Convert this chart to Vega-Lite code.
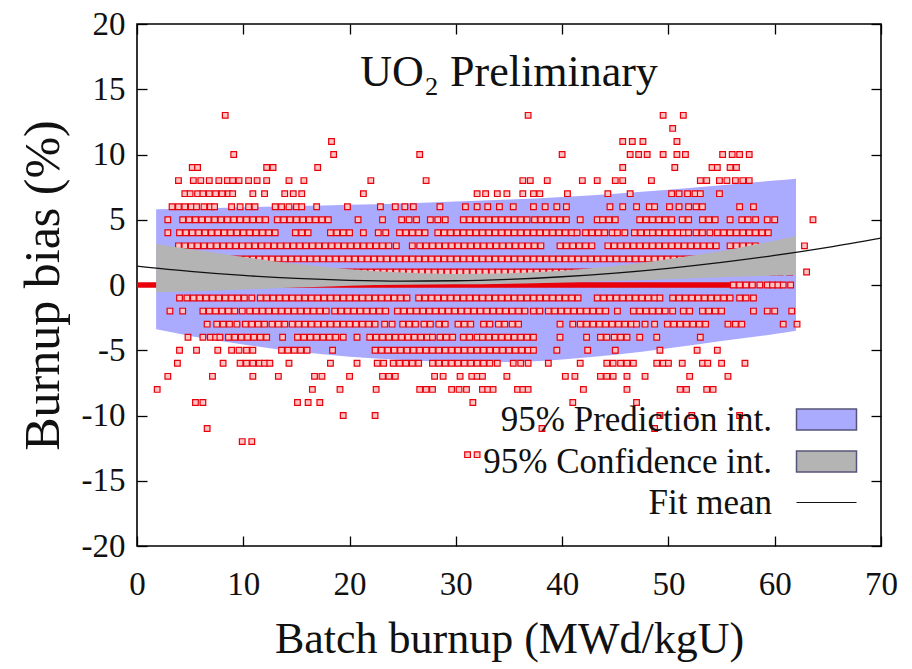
{
"$schema":"https://vega.github.io/schema/vega-lite/v6.json",
"width":744,"height":522,
"autosize":{"type":"none"},
"padding":{"left":137,"top":24,"right":31,"bottom":123},
"background":"white",
"config":{"view":{"stroke":"#000","strokeWidth":1.6},"font":"Liberation Serif"},
"title":{"text":"UO₂ Preliminary","font":"Liberation Serif","fontSize":44,"fontWeight":"normal","color":"#111","anchor":"middle","frame":"group","offset":-64,"dy":58,"baseline":"alphabetic"},
"datasets":{
"pred":[{"x":1.8,"lo":-3.4,"hi":5.8},{"x":5,"lo":-3.9,"hi":5.85},{"x":10,"lo":-4.55,"hi":5.95},{"x":15,"lo":-5.1,"hi":6.05},{"x":20,"lo":-5.5,"hi":6.15},{"x":25,"lo":-5.75,"hi":6.25},{"x":30,"lo":-5.9,"hi":6.4},{"x":35,"lo":-5.9,"hi":6.55},{"x":40,"lo":-5.7,"hi":6.75},{"x":45,"lo":-5.35,"hi":7.0},{"x":50,"lo":-4.85,"hi":7.3},{"x":55,"lo":-4.3,"hi":7.65},{"x":60,"lo":-3.75,"hi":8.0},{"x":62,"lo":-3.5,"hi":8.15}],
"conf":[{"x":1.8,"lo":-0.55,"hi":3.15},{"x":5,"lo":-0.5,"hi":2.75},{"x":10,"lo":-0.35,"hi":2.15},{"x":15,"lo":-0.2,"hi":1.6},{"x":20,"lo":-0.05,"hi":1.2},{"x":25,"lo":0.02,"hi":0.95},{"x":30,"lo":0.05,"hi":0.85},{"x":35,"lo":0.1,"hi":0.9},{"x":40,"lo":0.2,"hi":1.1},{"x":45,"lo":0.3,"hi":1.45},{"x":50,"lo":0.45,"hi":2.0},{"x":55,"lo":0.6,"hi":2.6},{"x":60,"lo":0.72,"hi":3.4},{"x":62,"lo":0.78,"hi":3.75}],
"mean":[{"x":0,"y":1.45},{"x":5,"y":1.05},{"x":10,"y":0.735},{"x":15,"y":0.506},{"x":20,"y":0.361},{"x":25,"y":0.302},{"x":30,"y":0.327},{"x":35,"y":0.438},{"x":40,"y":0.633},{"x":45,"y":0.914},{"x":50,"y":1.279},{"x":55,"y":1.73},{"x":60,"y":2.265},{"x":65,"y":2.886},{"x":70,"y":3.591}],
"zero":[{"x":0,"x2":56,"y":0}],
"pts":[
{"x":8.3,"y":13},{"x":36.8,"y":13},{"x":49.5,"y":13},{"x":51.4,"y":13},
{"x":50.4,"y":12},
{"x":18.3,"y":11},{"x":45.7,"y":11},{"x":46.6,"y":11},{"x":47.6,"y":11},{"x":50.8,"y":11},
{"x":9.1,"y":10},{"x":18.5,"y":10},{"x":26.6,"y":10},{"x":40.0,"y":10},{"x":46.4,"y":10},{"x":47.2,"y":10},{"x":48.0,"y":10},{"x":49.5,"y":10},{"x":50.8,"y":10},{"x":51.6,"y":10},{"x":55.1,"y":10},{"x":56.0,"y":10},{"x":56.7,"y":10},{"x":57.6,"y":10},
{"x":5.2,"y":9},{"x":5.7,"y":9},{"x":12.2,"y":9},{"x":12.8,"y":9},{"x":17.0,"y":9},{"x":45.7,"y":9},{"x":50.6,"y":9},{"x":54.1,"y":9},{"x":54.6,"y":9},{"x":55.8,"y":9},{"x":56.4,"y":9},
{"x":3.9,"y":8},{"x":5.3,"y":8},{"x":6.0,"y":8},{"x":6.8,"y":8},{"x":7.7,"y":8},{"x":8.5,"y":8},{"x":9.0,"y":8},{"x":9.6,"y":8},{"x":10.5,"y":8},{"x":11.3,"y":8},{"x":12.2,"y":8},{"x":14.3,"y":8},{"x":15.7,"y":8},{"x":22.0,"y":8},{"x":27.2,"y":8},{"x":36.3,"y":8},{"x":37.0,"y":8},{"x":38.6,"y":8},{"x":41.9,"y":8},{"x":43.3,"y":8},{"x":45.0,"y":8},{"x":45.7,"y":8},{"x":48.4,"y":8},{"x":53.0,"y":8},{"x":53.6,"y":8},{"x":54.8,"y":8},{"x":55.5,"y":8},{"x":56.3,"y":8},{"x":57.0,"y":8},{"x":57.6,"y":8},
{"x":4.5,"y":7},{"x":5.0,"y":7},{"x":5.7,"y":7},{"x":6.2,"y":7},{"x":6.8,"y":7},{"x":7.4,"y":7},{"x":8.0,"y":7},{"x":8.6,"y":7},{"x":9.0,"y":7},{"x":10.9,"y":7},{"x":12.0,"y":7},{"x":13.9,"y":7},{"x":14.7,"y":7},{"x":15.5,"y":7},{"x":21.3,"y":7},{"x":32.0,"y":7},{"x":32.8,"y":7},{"x":33.9,"y":7},{"x":34.8,"y":7},{"x":36.3,"y":7},{"x":37.3,"y":7},{"x":37.9,"y":7},{"x":40.5,"y":7},{"x":44.3,"y":7},{"x":46.4,"y":7},{"x":50.3,"y":7},{"x":51.0,"y":7},{"x":51.8,"y":7},{"x":52.5,"y":7},{"x":53.0,"y":7},{"x":54.8,"y":7},
{"x":3.3,"y":6},{"x":3.9,"y":6},{"x":4.5,"y":6},{"x":5.1,"y":6},{"x":5.6,"y":6},{"x":6.3,"y":6},{"x":6.9,"y":6},{"x":7.3,"y":6},{"x":8.9,"y":6},{"x":9.7,"y":6},{"x":10.5,"y":6},{"x":11.1,"y":6},{"x":13.0,"y":6},{"x":13.6,"y":6},{"x":14.3,"y":6},{"x":15.0,"y":6},{"x":15.5,"y":6},{"x":16.9,"y":6},{"x":19.8,"y":6},{"x":22.9,"y":6},{"x":24.3,"y":6},{"x":25.2,"y":6},{"x":26.0,"y":6},{"x":28.5,"y":6},{"x":30.9,"y":6},{"x":32.0,"y":6},{"x":33.0,"y":6},{"x":34.1,"y":6},{"x":35.4,"y":6},{"x":37.3,"y":6},{"x":38.4,"y":6},{"x":39.5,"y":6},{"x":40.4,"y":6},{"x":44.5,"y":6},{"x":45.7,"y":6},{"x":47.0,"y":6},{"x":48.2,"y":6},{"x":48.7,"y":6},{"x":50.1,"y":6},{"x":51.0,"y":6},{"x":51.9,"y":6},{"x":52.6,"y":6},{"x":53.2,"y":6},{"x":56.7,"y":6},{"x":58.0,"y":6},
{"x":2.9,"y":5},{"x":4.3,"y":5},{"x":4.9,"y":5},{"x":5.5,"y":5},{"x":6.1,"y":5},{"x":6.7,"y":5},{"x":7.3,"y":5},{"x":7.9,"y":5},{"x":8.5,"y":5},{"x":9.1,"y":5},{"x":9.7,"y":5},{"x":10.3,"y":5},{"x":10.9,"y":5},{"x":11.5,"y":5},{"x":12.1,"y":5},{"x":13.2,"y":5},{"x":13.8,"y":5},{"x":14.4,"y":5},{"x":15.0,"y":5},{"x":15.6,"y":5},{"x":16.2,"y":5},{"x":16.8,"y":5},{"x":17.4,"y":5},{"x":18.0,"y":5},{"x":20.8,"y":5},{"x":23.1,"y":5},{"x":24.9,"y":5},{"x":25.6,"y":5},{"x":26.3,"y":5},{"x":27.6,"y":5},{"x":28.3,"y":5},{"x":29.0,"y":5},{"x":30.7,"y":5},{"x":31.3,"y":5},{"x":31.9,"y":5},{"x":32.5,"y":5},{"x":33.1,"y":5},{"x":33.7,"y":5},{"x":34.3,"y":5},{"x":34.9,"y":5},{"x":35.5,"y":5},{"x":36.1,"y":5},{"x":36.7,"y":5},{"x":37.4,"y":5},{"x":38.0,"y":5},{"x":38.6,"y":5},{"x":39.2,"y":5},{"x":39.8,"y":5},{"x":40.4,"y":5},{"x":41.7,"y":5},{"x":43.3,"y":5},{"x":43.8,"y":5},{"x":44.4,"y":5},{"x":45.0,"y":5},{"x":47.3,"y":5},{"x":47.9,"y":5},{"x":48.5,"y":5},{"x":49.1,"y":5},{"x":49.7,"y":5},{"x":50.3,"y":5},{"x":51.3,"y":5},{"x":51.9,"y":5},{"x":53.2,"y":5},{"x":53.8,"y":5},{"x":54.4,"y":5},{"x":55.8,"y":5},{"x":56.9,"y":5},{"x":57.5,"y":5},{"x":58.2,"y":5},{"x":59.3,"y":5},{"x":60.0,"y":5},{"x":63.6,"y":5},
{"x":2.9,"y":4},{"x":4.0,"y":4},{"x":4.6,"y":4},{"x":5.2,"y":4},{"x":5.8,"y":4},{"x":6.4,"y":4},{"x":7.0,"y":4},{"x":7.6,"y":4},{"x":8.2,"y":4},{"x":8.8,"y":4},{"x":9.4,"y":4},{"x":10.0,"y":4},{"x":10.6,"y":4},{"x":11.2,"y":4},{"x":11.8,"y":4},{"x":12.4,"y":4},{"x":13.0,"y":4},{"x":14.9,"y":4},{"x":15.5,"y":4},{"x":16.1,"y":4},{"x":18.2,"y":4},{"x":18.8,"y":4},{"x":19.4,"y":4},{"x":20.0,"y":4},{"x":21.3,"y":4},{"x":22.7,"y":4},{"x":23.4,"y":4},{"x":24.7,"y":4},{"x":25.3,"y":4},{"x":25.9,"y":4},{"x":26.5,"y":4},{"x":27.1,"y":4},{"x":28.3,"y":4},{"x":28.9,"y":4},{"x":29.5,"y":4},{"x":30.1,"y":4},{"x":30.7,"y":4},{"x":31.3,"y":4},{"x":31.9,"y":4},{"x":32.5,"y":4},{"x":33.1,"y":4},{"x":33.7,"y":4},{"x":34.3,"y":4},{"x":34.9,"y":4},{"x":35.5,"y":4},{"x":36.1,"y":4},{"x":36.7,"y":4},{"x":37.3,"y":4},{"x":37.9,"y":4},{"x":38.5,"y":4},{"x":39.1,"y":4},{"x":39.7,"y":4},{"x":40.3,"y":4},{"x":40.9,"y":4},{"x":41.4,"y":4},{"x":42.2,"y":4},{"x":42.8,"y":4},{"x":43.4,"y":4},{"x":44.0,"y":4},{"x":44.7,"y":4},{"x":45.2,"y":4},{"x":45.9,"y":4},{"x":46.8,"y":4},{"x":47.4,"y":4},{"x":48.0,"y":4},{"x":48.5,"y":4},{"x":49.1,"y":4},{"x":49.7,"y":4},{"x":50.3,"y":4},{"x":50.9,"y":4},{"x":51.4,"y":4},{"x":51.9,"y":4},{"x":52.6,"y":4},{"x":53.2,"y":4},{"x":53.9,"y":4},{"x":54.6,"y":4},{"x":55.2,"y":4},{"x":55.8,"y":4},{"x":56.4,"y":4},{"x":57.0,"y":4},{"x":57.6,"y":4},{"x":58.2,"y":4},{"x":58.8,"y":4},{"x":59.4,"y":4},
{"x":3.9,"y":3},{"x":4.5,"y":3},{"x":5.1,"y":3},{"x":5.7,"y":3},{"x":6.3,"y":3},{"x":6.9,"y":3},{"x":7.5,"y":3},{"x":8.1,"y":3},{"x":8.7,"y":3},{"x":9.3,"y":3},{"x":9.9,"y":3},{"x":10.5,"y":3},{"x":11.1,"y":3},{"x":11.7,"y":3},{"x":12.3,"y":3},{"x":12.9,"y":3},{"x":13.5,"y":3},{"x":14.1,"y":3},{"x":14.7,"y":3},{"x":15.3,"y":3},{"x":15.9,"y":3},{"x":16.5,"y":3},{"x":17.1,"y":3},{"x":17.7,"y":3},{"x":18.3,"y":3},{"x":18.9,"y":3},{"x":19.5,"y":3},{"x":20.1,"y":3},{"x":20.7,"y":3},{"x":21.3,"y":3},{"x":21.9,"y":3},{"x":22.5,"y":3},{"x":23.1,"y":3},{"x":23.7,"y":3},{"x":24.4,"y":3},{"x":25.9,"y":3},{"x":26.6,"y":3},{"x":27.2,"y":3},{"x":27.8,"y":3},{"x":28.4,"y":3},{"x":29.0,"y":3},{"x":29.6,"y":3},{"x":30.2,"y":3},{"x":30.8,"y":3},{"x":31.4,"y":3},{"x":32.0,"y":3},{"x":32.6,"y":3},{"x":33.2,"y":3},{"x":33.8,"y":3},{"x":34.4,"y":3},{"x":35.0,"y":3},{"x":35.6,"y":3},{"x":36.2,"y":3},{"x":36.8,"y":3},{"x":37.4,"y":3},{"x":38.0,"y":3},{"x":39.8,"y":3},{"x":40.4,"y":3},{"x":41.0,"y":3},{"x":41.6,"y":3},{"x":42.2,"y":3},{"x":42.8,"y":3},{"x":44.3,"y":3},{"x":44.9,"y":3},{"x":45.5,"y":3},{"x":46.1,"y":3},{"x":46.7,"y":3},{"x":47.3,"y":3},{"x":47.9,"y":3},{"x":48.5,"y":3},{"x":49.1,"y":3},{"x":49.7,"y":3},{"x":50.3,"y":3},{"x":50.9,"y":3},{"x":51.5,"y":3},{"x":52.1,"y":3},{"x":52.7,"y":3},{"x":53.3,"y":3},{"x":53.9,"y":3},{"x":54.5,"y":3},{"x":55.8,"y":3},{"x":56.4,"y":3},{"x":57.0,"y":3},{"x":57.6,"y":3},{"x":58.2,"y":3},{"x":62.8,"y":3},
{"x":2.5,"y":2},{"x":3.1,"y":2},{"x":3.7,"y":2},{"x":4.3,"y":2},{"x":4.9,"y":2},{"x":5.5,"y":2},{"x":6.1,"y":2},{"x":6.7,"y":2},{"x":7.3,"y":2},{"x":7.9,"y":2},{"x":8.5,"y":2},{"x":9.1,"y":2},{"x":9.7,"y":2},{"x":10.3,"y":2},{"x":10.9,"y":2},{"x":11.5,"y":2},{"x":12.1,"y":2},{"x":12.7,"y":2},{"x":13.3,"y":2},{"x":13.9,"y":2},{"x":14.5,"y":2},{"x":15.1,"y":2},{"x":15.7,"y":2},{"x":16.3,"y":2},{"x":16.9,"y":2},{"x":17.5,"y":2},{"x":18.1,"y":2},{"x":18.7,"y":2},{"x":19.3,"y":2},{"x":19.9,"y":2},{"x":20.5,"y":2},{"x":21.1,"y":2},{"x":21.7,"y":2},{"x":22.3,"y":2},{"x":22.9,"y":2},{"x":23.5,"y":2},{"x":24.1,"y":2},{"x":24.7,"y":2},{"x":25.3,"y":2},{"x":25.9,"y":2},{"x":26.5,"y":2},{"x":27.1,"y":2},{"x":27.7,"y":2},{"x":28.3,"y":2},{"x":28.9,"y":2},{"x":29.5,"y":2},{"x":30.1,"y":2},{"x":30.7,"y":2},{"x":31.3,"y":2},{"x":31.9,"y":2},{"x":32.5,"y":2},{"x":33.1,"y":2},{"x":33.7,"y":2},{"x":34.3,"y":2},{"x":34.9,"y":2},{"x":35.5,"y":2},{"x":36.1,"y":2},{"x":36.7,"y":2},{"x":37.3,"y":2},{"x":37.9,"y":2},{"x":38.5,"y":2},{"x":39.1,"y":2},{"x":39.7,"y":2},{"x":40.3,"y":2},{"x":40.9,"y":2},{"x":41.5,"y":2},{"x":42.1,"y":2},{"x":42.7,"y":2},{"x":43.3,"y":2},{"x":43.9,"y":2},{"x":44.5,"y":2},{"x":45.1,"y":2},{"x":45.7,"y":2},{"x":46.3,"y":2},{"x":46.9,"y":2},{"x":47.5,"y":2},{"x":48.1,"y":2},{"x":48.7,"y":2},{"x":49.3,"y":2},{"x":49.9,"y":2},{"x":50.5,"y":2},{"x":51.1,"y":2},{"x":51.7,"y":2},{"x":52.3,"y":2},{"x":52.9,"y":2},{"x":53.5,"y":2},{"x":54.1,"y":2},{"x":54.7,"y":2},{"x":55.3,"y":2},{"x":58.6,"y":2},
{"x":2.2,"y":1},{"x":2.8,"y":1},{"x":3.4,"y":1},{"x":4.0,"y":1},{"x":4.6,"y":1},{"x":5.2,"y":1},{"x":5.8,"y":1},{"x":6.4,"y":1},{"x":7.0,"y":1},{"x":7.6,"y":1},{"x":8.2,"y":1},{"x":8.8,"y":1},{"x":9.4,"y":1},{"x":10.0,"y":1},{"x":10.6,"y":1},{"x":11.2,"y":1},{"x":11.8,"y":1},{"x":12.4,"y":1},{"x":13.0,"y":1},{"x":13.6,"y":1},{"x":14.2,"y":1},{"x":14.8,"y":1},{"x":15.4,"y":1},{"x":16.0,"y":1},{"x":16.6,"y":1},{"x":17.2,"y":1},{"x":17.8,"y":1},{"x":18.4,"y":1},{"x":19.0,"y":1},{"x":19.6,"y":1},{"x":20.2,"y":1},{"x":20.8,"y":1},{"x":21.4,"y":1},{"x":22.0,"y":1},{"x":22.6,"y":1},{"x":23.2,"y":1},{"x":23.8,"y":1},{"x":24.4,"y":1},{"x":25.0,"y":1},{"x":25.6,"y":1},{"x":26.2,"y":1},{"x":26.8,"y":1},{"x":27.4,"y":1},{"x":28.0,"y":1},{"x":28.6,"y":1},{"x":29.2,"y":1},{"x":29.8,"y":1},{"x":30.4,"y":1},{"x":31.0,"y":1},{"x":31.6,"y":1},{"x":32.2,"y":1},{"x":32.8,"y":1},{"x":33.4,"y":1},{"x":34.0,"y":1},{"x":34.6,"y":1},{"x":35.2,"y":1},{"x":35.8,"y":1},{"x":36.4,"y":1},{"x":37.0,"y":1},{"x":37.6,"y":1},{"x":38.2,"y":1},{"x":38.8,"y":1},{"x":39.4,"y":1},{"x":40.0,"y":1},{"x":40.6,"y":1},{"x":41.2,"y":1},{"x":41.8,"y":1},{"x":42.4,"y":1},{"x":43.0,"y":1},{"x":43.6,"y":1},{"x":44.2,"y":1},{"x":44.8,"y":1},{"x":45.4,"y":1},{"x":46.0,"y":1},{"x":46.6,"y":1},{"x":47.2,"y":1},{"x":47.8,"y":1},{"x":48.4,"y":1},{"x":49.0,"y":1},{"x":49.6,"y":1},{"x":50.2,"y":1},{"x":50.8,"y":1},{"x":51.4,"y":1},{"x":52.0,"y":1},{"x":52.6,"y":1},{"x":53.2,"y":1},{"x":53.8,"y":1},{"x":54.4,"y":1},{"x":55.0,"y":1},{"x":55.6,"y":1},{"x":56.2,"y":1},{"x":56.8,"y":1},{"x":57.4,"y":1},{"x":59.8,"y":1},{"x":60.5,"y":1},{"x":61.4,"y":1},{"x":63.0,"y":1},
{"x":56.1,"y":0},{"x":56.7,"y":0},{"x":57.3,"y":0},{"x":57.9,"y":0},{"x":58.6,"y":0},{"x":59.3,"y":0},{"x":59.8,"y":0},{"x":60.3,"y":0},{"x":60.8,"y":0},{"x":61.5,"y":0},
{"x":4.0,"y":-1},{"x":4.7,"y":-1},{"x":5.3,"y":-1},{"x":5.9,"y":-1},{"x":6.5,"y":-1},{"x":7.1,"y":-1},{"x":7.7,"y":-1},{"x":8.3,"y":-1},{"x":8.9,"y":-1},{"x":9.5,"y":-1},{"x":10.1,"y":-1},{"x":10.8,"y":-1},{"x":11.6,"y":-1},{"x":12.2,"y":-1},{"x":12.8,"y":-1},{"x":13.4,"y":-1},{"x":14.0,"y":-1},{"x":14.6,"y":-1},{"x":15.2,"y":-1},{"x":15.8,"y":-1},{"x":16.4,"y":-1},{"x":17.0,"y":-1},{"x":17.6,"y":-1},{"x":18.2,"y":-1},{"x":18.8,"y":-1},{"x":19.4,"y":-1},{"x":20.0,"y":-1},{"x":20.6,"y":-1},{"x":21.2,"y":-1},{"x":21.8,"y":-1},{"x":22.4,"y":-1},{"x":23.0,"y":-1},{"x":23.6,"y":-1},{"x":24.2,"y":-1},{"x":24.8,"y":-1},{"x":25.4,"y":-1},{"x":26.5,"y":-1},{"x":27.1,"y":-1},{"x":27.7,"y":-1},{"x":28.3,"y":-1},{"x":28.9,"y":-1},{"x":29.5,"y":-1},{"x":30.1,"y":-1},{"x":30.7,"y":-1},{"x":31.3,"y":-1},{"x":31.9,"y":-1},{"x":32.5,"y":-1},{"x":33.1,"y":-1},{"x":33.7,"y":-1},{"x":34.3,"y":-1},{"x":34.9,"y":-1},{"x":35.5,"y":-1},{"x":36.1,"y":-1},{"x":36.7,"y":-1},{"x":37.3,"y":-1},{"x":37.9,"y":-1},{"x":38.5,"y":-1},{"x":39.1,"y":-1},{"x":39.7,"y":-1},{"x":40.3,"y":-1},{"x":40.9,"y":-1},{"x":41.5,"y":-1},{"x":43.3,"y":-1},{"x":43.9,"y":-1},{"x":44.5,"y":-1},{"x":45.1,"y":-1},{"x":45.7,"y":-1},{"x":46.3,"y":-1},{"x":46.9,"y":-1},{"x":47.5,"y":-1},{"x":48.1,"y":-1},{"x":48.7,"y":-1},{"x":49.2,"y":-1},{"x":50.4,"y":-1},{"x":51.0,"y":-1},{"x":51.6,"y":-1},{"x":52.2,"y":-1},{"x":52.8,"y":-1},{"x":53.4,"y":-1},{"x":54.0,"y":-1},{"x":54.6,"y":-1},{"x":55.2,"y":-1},{"x":55.8,"y":-1},{"x":56.7,"y":-1},{"x":57.3,"y":-1},{"x":58.0,"y":-1},
{"x":3.1,"y":-2},{"x":4.3,"y":-2},{"x":6.2,"y":-2},{"x":6.8,"y":-2},{"x":7.4,"y":-2},{"x":8.0,"y":-2},{"x":8.6,"y":-2},{"x":9.2,"y":-2},{"x":9.9,"y":-2},{"x":10.6,"y":-2},{"x":11.2,"y":-2},{"x":11.8,"y":-2},{"x":12.4,"y":-2},{"x":13.0,"y":-2},{"x":13.6,"y":-2},{"x":14.2,"y":-2},{"x":14.8,"y":-2},{"x":15.4,"y":-2},{"x":16.0,"y":-2},{"x":16.6,"y":-2},{"x":17.2,"y":-2},{"x":17.8,"y":-2},{"x":18.6,"y":-2},{"x":19.2,"y":-2},{"x":19.8,"y":-2},{"x":20.4,"y":-2},{"x":21.0,"y":-2},{"x":21.6,"y":-2},{"x":22.2,"y":-2},{"x":22.8,"y":-2},{"x":23.4,"y":-2},{"x":24.5,"y":-2},{"x":25.1,"y":-2},{"x":25.7,"y":-2},{"x":26.3,"y":-2},{"x":26.9,"y":-2},{"x":27.5,"y":-2},{"x":28.1,"y":-2},{"x":28.7,"y":-2},{"x":29.3,"y":-2},{"x":29.9,"y":-2},{"x":30.5,"y":-2},{"x":31.1,"y":-2},{"x":31.7,"y":-2},{"x":32.3,"y":-2},{"x":32.9,"y":-2},{"x":33.5,"y":-2},{"x":34.1,"y":-2},{"x":34.7,"y":-2},{"x":35.3,"y":-2},{"x":35.9,"y":-2},{"x":36.5,"y":-2},{"x":37.3,"y":-2},{"x":37.9,"y":-2},{"x":38.7,"y":-2},{"x":39.3,"y":-2},{"x":39.9,"y":-2},{"x":40.5,"y":-2},{"x":41.1,"y":-2},{"x":41.7,"y":-2},{"x":42.3,"y":-2},{"x":42.9,"y":-2},{"x":43.5,"y":-2},{"x":44.1,"y":-2},{"x":45.2,"y":-2},{"x":46.7,"y":-2},{"x":47.3,"y":-2},{"x":47.9,"y":-2},{"x":48.5,"y":-2},{"x":49.1,"y":-2},{"x":49.7,"y":-2},{"x":50.4,"y":-2},{"x":51.4,"y":-2},{"x":52.0,"y":-2},{"x":53.2,"y":-2},{"x":53.8,"y":-2},{"x":54.4,"y":-2},{"x":55.0,"y":-2},{"x":58.0,"y":-2},{"x":59.3,"y":-2},{"x":60.0,"y":-2},{"x":61.6,"y":-2},
{"x":6.6,"y":-3},{"x":7.5,"y":-3},{"x":8.1,"y":-3},{"x":8.7,"y":-3},{"x":9.4,"y":-3},{"x":10.2,"y":-3},{"x":10.8,"y":-3},{"x":11.4,"y":-3},{"x":12.0,"y":-3},{"x":12.7,"y":-3},{"x":13.3,"y":-3},{"x":13.9,"y":-3},{"x":14.6,"y":-3},{"x":15.2,"y":-3},{"x":15.8,"y":-3},{"x":16.4,"y":-3},{"x":17.0,"y":-3},{"x":17.6,"y":-3},{"x":18.2,"y":-3},{"x":18.8,"y":-3},{"x":19.4,"y":-3},{"x":20.0,"y":-3},{"x":20.6,"y":-3},{"x":21.2,"y":-3},{"x":21.8,"y":-3},{"x":22.4,"y":-3},{"x":23.3,"y":-3},{"x":24.0,"y":-3},{"x":25.0,"y":-3},{"x":25.6,"y":-3},{"x":26.2,"y":-3},{"x":27.0,"y":-3},{"x":27.6,"y":-3},{"x":28.4,"y":-3},{"x":29.0,"y":-3},{"x":30.2,"y":-3},{"x":30.8,"y":-3},{"x":31.4,"y":-3},{"x":32.6,"y":-3},{"x":33.2,"y":-3},{"x":34.0,"y":-3},{"x":34.6,"y":-3},{"x":35.3,"y":-3},{"x":35.9,"y":-3},{"x":39.8,"y":-3},{"x":41.0,"y":-3},{"x":41.7,"y":-3},{"x":42.3,"y":-3},{"x":42.9,"y":-3},{"x":43.5,"y":-3},{"x":44.1,"y":-3},{"x":44.7,"y":-3},{"x":45.3,"y":-3},{"x":45.9,"y":-3},{"x":46.5,"y":-3},{"x":47.0,"y":-3},{"x":47.8,"y":-3},{"x":48.7,"y":-3},{"x":49.9,"y":-3},{"x":50.5,"y":-3},{"x":51.1,"y":-3},{"x":51.7,"y":-3},{"x":52.3,"y":-3},{"x":52.9,"y":-3},{"x":53.5,"y":-3},{"x":55.6,"y":-3},{"x":56.3,"y":-3},{"x":56.9,"y":-3},{"x":60.8,"y":-3},{"x":62.1,"y":-3},
{"x":4.8,"y":-4},{"x":6.2,"y":-4},{"x":6.9,"y":-4},{"x":7.4,"y":-4},{"x":7.8,"y":-4},{"x":8.6,"y":-4},{"x":9.2,"y":-4},{"x":9.8,"y":-4},{"x":10.4,"y":-4},{"x":11.0,"y":-4},{"x":11.6,"y":-4},{"x":12.2,"y":-4},{"x":13.7,"y":-4},{"x":15.1,"y":-4},{"x":15.7,"y":-4},{"x":16.3,"y":-4},{"x":16.9,"y":-4},{"x":17.5,"y":-4},{"x":18.1,"y":-4},{"x":18.7,"y":-4},{"x":19.4,"y":-4},{"x":20.7,"y":-4},{"x":21.9,"y":-4},{"x":22.5,"y":-4},{"x":23.1,"y":-4},{"x":23.7,"y":-4},{"x":24.3,"y":-4},{"x":24.9,"y":-4},{"x":25.5,"y":-4},{"x":26.1,"y":-4},{"x":26.7,"y":-4},{"x":27.3,"y":-4},{"x":27.8,"y":-4},{"x":28.5,"y":-4},{"x":29.1,"y":-4},{"x":29.7,"y":-4},{"x":30.7,"y":-4},{"x":31.3,"y":-4},{"x":32.0,"y":-4},{"x":32.5,"y":-4},{"x":33.1,"y":-4},{"x":33.7,"y":-4},{"x":34.3,"y":-4},{"x":34.9,"y":-4},{"x":35.5,"y":-4},{"x":36.1,"y":-4},{"x":36.7,"y":-4},{"x":37.3,"y":-4},{"x":39.8,"y":-4},{"x":42.3,"y":-4},{"x":43.6,"y":-4},{"x":44.2,"y":-4},{"x":44.9,"y":-4},{"x":45.5,"y":-4},{"x":46.1,"y":-4},{"x":47.3,"y":-4},{"x":48.9,"y":-4},{"x":53.0,"y":-4},
{"x":4.0,"y":-5},{"x":5.6,"y":-5},{"x":7.6,"y":-5},{"x":8.9,"y":-5},{"x":9.6,"y":-5},{"x":10.3,"y":-5},{"x":10.9,"y":-5},{"x":13.6,"y":-5},{"x":14.2,"y":-5},{"x":14.8,"y":-5},{"x":15.4,"y":-5},{"x":16.0,"y":-5},{"x":18.4,"y":-5},{"x":22.4,"y":-5},{"x":23.0,"y":-5},{"x":23.6,"y":-5},{"x":24.2,"y":-5},{"x":24.8,"y":-5},{"x":25.4,"y":-5},{"x":26.0,"y":-5},{"x":26.6,"y":-5},{"x":27.2,"y":-5},{"x":27.8,"y":-5},{"x":28.4,"y":-5},{"x":29.0,"y":-5},{"x":29.6,"y":-5},{"x":30.2,"y":-5},{"x":30.8,"y":-5},{"x":31.4,"y":-5},{"x":32.0,"y":-5},{"x":32.6,"y":-5},{"x":33.2,"y":-5},{"x":33.8,"y":-5},{"x":34.4,"y":-5},{"x":35.0,"y":-5},{"x":35.6,"y":-5},{"x":36.2,"y":-5},{"x":36.8,"y":-5},{"x":37.3,"y":-5},{"x":39.5,"y":-5},{"x":42.4,"y":-5},{"x":45.0,"y":-5},{"x":49.2,"y":-5},{"x":52.7,"y":-5},{"x":54.6,"y":-5},
{"x":3.8,"y":-6},{"x":8.1,"y":-6},{"x":9.7,"y":-6},{"x":10.3,"y":-6},{"x":10.9,"y":-6},{"x":11.5,"y":-6},{"x":12.0,"y":-6},{"x":12.5,"y":-6},{"x":14.3,"y":-6},{"x":18.2,"y":-6},{"x":20.7,"y":-6},{"x":22.6,"y":-6},{"x":23.2,"y":-6},{"x":24.1,"y":-6},{"x":24.7,"y":-6},{"x":25.3,"y":-6},{"x":25.9,"y":-6},{"x":26.5,"y":-6},{"x":27.8,"y":-6},{"x":28.4,"y":-6},{"x":29.0,"y":-6},{"x":29.6,"y":-6},{"x":30.2,"y":-6},{"x":30.8,"y":-6},{"x":31.4,"y":-6},{"x":32.0,"y":-6},{"x":32.6,"y":-6},{"x":33.2,"y":-6},{"x":33.9,"y":-6},{"x":35.4,"y":-6},{"x":36.1,"y":-6},{"x":36.8,"y":-6},{"x":38.7,"y":-6},{"x":41.7,"y":-6},{"x":44.2,"y":-6},{"x":44.8,"y":-6},{"x":45.5,"y":-6},{"x":46.1,"y":-6},{"x":46.7,"y":-6},{"x":48.9,"y":-6},{"x":49.5,"y":-6},{"x":50.0,"y":-6},{"x":51.3,"y":-6},{"x":53.2,"y":-6},{"x":53.7,"y":-6},{"x":55.0,"y":-6},{"x":57.2,"y":-6},
{"x":2.9,"y":-7},{"x":7.1,"y":-7},{"x":10.9,"y":-7},{"x":13.3,"y":-7},{"x":16.7,"y":-7},{"x":17.4,"y":-7},{"x":20.0,"y":-7},{"x":23.1,"y":-7},{"x":23.7,"y":-7},{"x":24.3,"y":-7},{"x":28.0,"y":-7},{"x":28.8,"y":-7},{"x":30.4,"y":-7},{"x":31.5,"y":-7},{"x":32.0,"y":-7},{"x":32.5,"y":-7},{"x":34.8,"y":-7},{"x":40.3,"y":-7},{"x":41.2,"y":-7},{"x":43.6,"y":-7},{"x":44.2,"y":-7},{"x":44.8,"y":-7},{"x":46.1,"y":-7},{"x":47.8,"y":-7},{"x":52.0,"y":-7},{"x":55.6,"y":-7},
{"x":1.9,"y":-8},{"x":16.5,"y":-8},{"x":19.1,"y":-8},{"x":22.5,"y":-8},{"x":26.6,"y":-8},{"x":27.2,"y":-8},{"x":27.8,"y":-8},{"x":29.6,"y":-8},{"x":30.3,"y":-8},{"x":31.0,"y":-8},{"x":32.5,"y":-8},{"x":33.0,"y":-8},{"x":33.5,"y":-8},{"x":35.8,"y":-8},{"x":36.3,"y":-8},{"x":36.8,"y":-8},{"x":42.0,"y":-8},{"x":46.1,"y":-8},{"x":51.1,"y":-8},{"x":51.7,"y":-8},{"x":53.6,"y":-8},{"x":54.2,"y":-8},
{"x":5.5,"y":-9},{"x":6.2,"y":-9},{"x":15.1,"y":-9},{"x":16.1,"y":-9},{"x":17.2,"y":-9},{"x":31.6,"y":-9},{"x":41.0,"y":-9},{"x":47.0,"y":-9},
{"x":19.4,"y":-10},{"x":22.4,"y":-10},{"x":49.2,"y":-10},{"x":52.2,"y":-10},{"x":56.7,"y":-10},
{"x":6.6,"y":-11},{"x":38.1,"y":-11},{"x":48.7,"y":-11},
{"x":9.9,"y":-12},{"x":10.8,"y":-12},
{"x":31.1,"y":-13},{"x":32.0,"y":-13}
]},
"resolve":{"axis":{"x":"independent","y":"independent"}},
"layer":[
{"data":{"name":"pred"},"mark":{"type":"area","clip":true,"interpolate":"monotone","opacity":1},
 "encoding":{
  "x":{"field":"x","type":"quantitative","scale":{"domain":[0,70],"nice":false,"zero":false},
   "axis":{"orient":"bottom","values":[0,10,20,30,40,50,60,70],"tickSize":-10,"tickColor":"#000","tickWidth":1.3,"domain":false,"grid":false,"labelFont":"Liberation Serif","labelFontSize":33,"labelColor":"#111","labelPadding":32,"labelFlush":false,"labelExpr":"'' + datum.value","title":"Batch burnup (MWd/kgU)","titleFont":"Liberation Serif","titleFontSize":44,"titleFontWeight":"normal","titleColor":"#111","titlePadding":16}},
  "y":{"field":"lo","type":"quantitative","scale":{"domain":[-20,20],"nice":false,"zero":false},
   "axis":{"orient":"left","values":[-20,-15,-10,-5,0,5,10,15,20],"tickSize":-10,"tickColor":"#000","tickWidth":1.3,"domain":false,"grid":false,"labelFont":"Liberation Serif","labelFontSize":33,"labelColor":"#111","labelPadding":22,"labelFlush":false,"labelExpr":"'' + datum.value","title":"Burnup bias (%)","titleFont":"Liberation Serif","titleFontSize":50,"titleFontWeight":"normal","titleColor":"#111","titlePadding":13}},
  "y2":{"field":"hi"},
  "fill":{"datum":"95% Prediction int.","type":"nominal",
   "scale":{"domain":["95% Prediction int.","95% Confidence int."],"range":["#aaaaff","#b4b4b4"]},
   "legend":{"orient":"none","legendX":672,"legendY":378,"title":null,"padding":0,"symbolType":"M-3,-1.05H3V1.05H-3Z","symbolSize":400,"symbolStrokeColor":"#55557a","symbolStrokeWidth":1.5,"symbolOpacity":1,"labelFont":"Liberation Serif","labelFontSize":35,"labelColor":"#111","labelAlign":"right","labelBaseline":"middle","labelOffset":-72,"rowPadding":6,"labelLimit":0}}
 }},
{"data":{"name":"zero"},"mark":{"type":"rule","clip":true,"color":"#e8000b","strokeWidth":5.5},
 "encoding":{"x":{"field":"x","type":"quantitative","axis":null},"x2":{"field":"x2"},"y":{"field":"y","type":"quantitative","axis":null}}},
{"data":{"name":"pts"},"mark":{"type":"point","shape":"square","size":32,"filled":true,"fill":"#ffc4c4","fillOpacity":1,"stroke":"#e8000b","strokeWidth":1.2,"opacity":1,"clip":true},
 "encoding":{
  "x":{"field":"x","type":"quantitative","axis":{"orient":"top","values":[0,10,20,30,40,50,60,70],"labels":false,"tickSize":-10,"tickColor":"#000","tickWidth":1.3,"domain":false,"grid":false,"title":null}},
  "y":{"field":"y","type":"quantitative","axis":{"orient":"right","values":[-20,-15,-10,-5,0,5,10,15,20],"labels":false,"tickSize":-10,"tickColor":"#000","tickWidth":1.3,"domain":false,"grid":false,"title":null}}}},
{"data":{"name":"conf"},"mark":{"type":"area","clip":true,"interpolate":"monotone","opacity":1},
 "encoding":{"x":{"field":"x","type":"quantitative","axis":null},"y":{"field":"lo","type":"quantitative","axis":null},"y2":{"field":"hi"},
  "fill":{"datum":"95% Confidence int.","type":"nominal"}}},
{"data":{"name":"mean"},"mark":{"type":"line","clip":true,"interpolate":"monotone","strokeWidth":1.3},
 "encoding":{"x":{"field":"x","type":"quantitative","axis":null},"y":{"field":"y","type":"quantitative","axis":null},
  "stroke":{"datum":"Fit mean","type":"nominal","scale":{"domain":["Fit mean"],"range":["#111111"]},
   "legend":{"orient":"none","legendX":672,"legendY":461,"title":null,"padding":0,"symbolType":"M-3,0H3","symbolSize":400,"symbolStrokeWidth":1.2,"labelFont":"Liberation Serif","labelFontSize":35,"labelColor":"#111","labelAlign":"right","labelBaseline":"middle","labelOffset":-72,"labelLimit":0}}}}
]
}
